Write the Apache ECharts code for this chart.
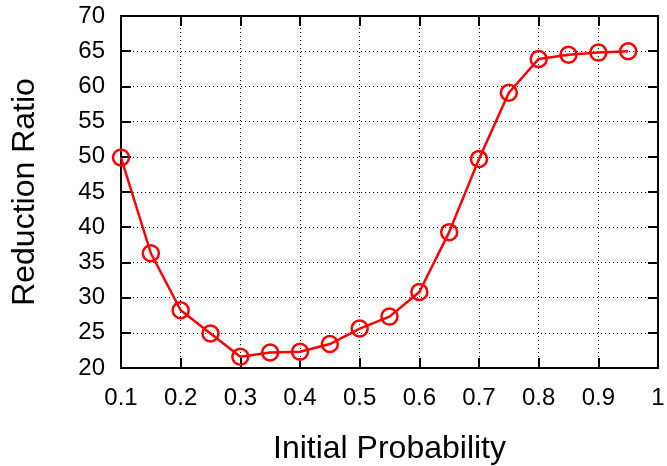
<!DOCTYPE html>
<html>
<head>
<meta charset="utf-8">
<script src="https://cdn.jsdelivr.net/npm/echarts@6/dist/echarts.min.js"></script>
<style>
    html, body { margin: 0; padding: 0; background: #fff; }
    #chart { width: 667px; height: 466px; }
</style>
</head>
<body>
<div id="chart"></div>
<script>
// x: initial probability, y: reduction ratio
const probabilities = [0.1, 0.15, 0.2, 0.25, 0.3, 0.35, 0.4, 0.45, 0.5, 0.55, 0.6, 0.65, 0.7, 0.75, 0.8, 0.85, 0.9, 0.95]
const reductionRatio = [49.9, 36.3, 28.2, 24.9, 21.6, 22.2, 22.3, 23.4, 25.6, 27.3, 30.8, 39.3, 49.7, 59.1, 63.9, 64.5, 64.8, 65.0]

const font = 'Liberation Sans, Arial, sans-serif'
const fmtTick = (v) => String(Math.round(v * 10) / 10)

const chart = echarts.init(document.getElementById('chart'))
const gridLine = { show: true, lineStyle: { color: '#000', type: [1, 3], width: 1 } }
const tickIn = { show: true, inside: true, length: 10, lineStyle: { color: '#000', width: 2 } }
const axisBorder = { show: true, lineStyle: { color: '#000', width: 2 } }

chart.setOption({
    animation: false,
    grid: { left: 121, top: 16, right: 9, bottom: 98, containLabel: false, outerBoundsMode: 'none' },
    xAxis: [
        {
            type: 'value',
            min: 0.1,
            max: 1,
            interval: 0.1,
            name: 'Initial Probability',
            nameLocation: 'middle',
            nameGap: 65,
            nameTextStyle: { fontFamily: font, fontSize: 32, color: '#000' },
            axisLine: axisBorder,
            axisTick: tickIn,
            splitLine: gridLine,
            axisLabel: { fontFamily: font, fontSize: 24, color: '#000', margin: 18, formatter: fmtTick }
        },
        {
            type: 'value',
            position: 'top',
            min: 0.1,
            max: 1,
            interval: 0.1,
            axisLine: axisBorder,
            axisTick: tickIn,
            splitLine: { show: false },
            axisLabel: { show: false }
        }
    ],
    yAxis: [
        {
            type: 'value',
            min: 20,
            max: 70,
            interval: 5,
            name: 'Reduction Ratio',
            nameLocation: 'middle',
            nameGap: 80,
            nameTextStyle: { fontFamily: font, fontSize: 32, color: '#000' },
            axisLine: axisBorder,
            axisTick: tickIn,
            splitLine: gridLine,
            axisLabel: { fontFamily: font, fontSize: 24, color: '#000', margin: 16 }
        },
        {
            type: 'value',
            position: 'right',
            min: 20,
            max: 70,
            interval: 5,
            axisLine: axisBorder,
            axisTick: tickIn,
            splitLine: { show: false },
            axisLabel: { show: false }
        }
    ],
    series: [
        {
            type: 'line',
            data: probabilities.map((p, i) => [p, reductionRatio[i]]),
            symbol: 'circle',
            symbolSize: 16,
            lineStyle: { color: '#ff0000', width: 2.5 },
            itemStyle: { color: 'rgba(0,0,0,0)', borderColor: '#ff0000', borderWidth: 2.5 }
        }
    ]
})
</script>
</body>
</html>
